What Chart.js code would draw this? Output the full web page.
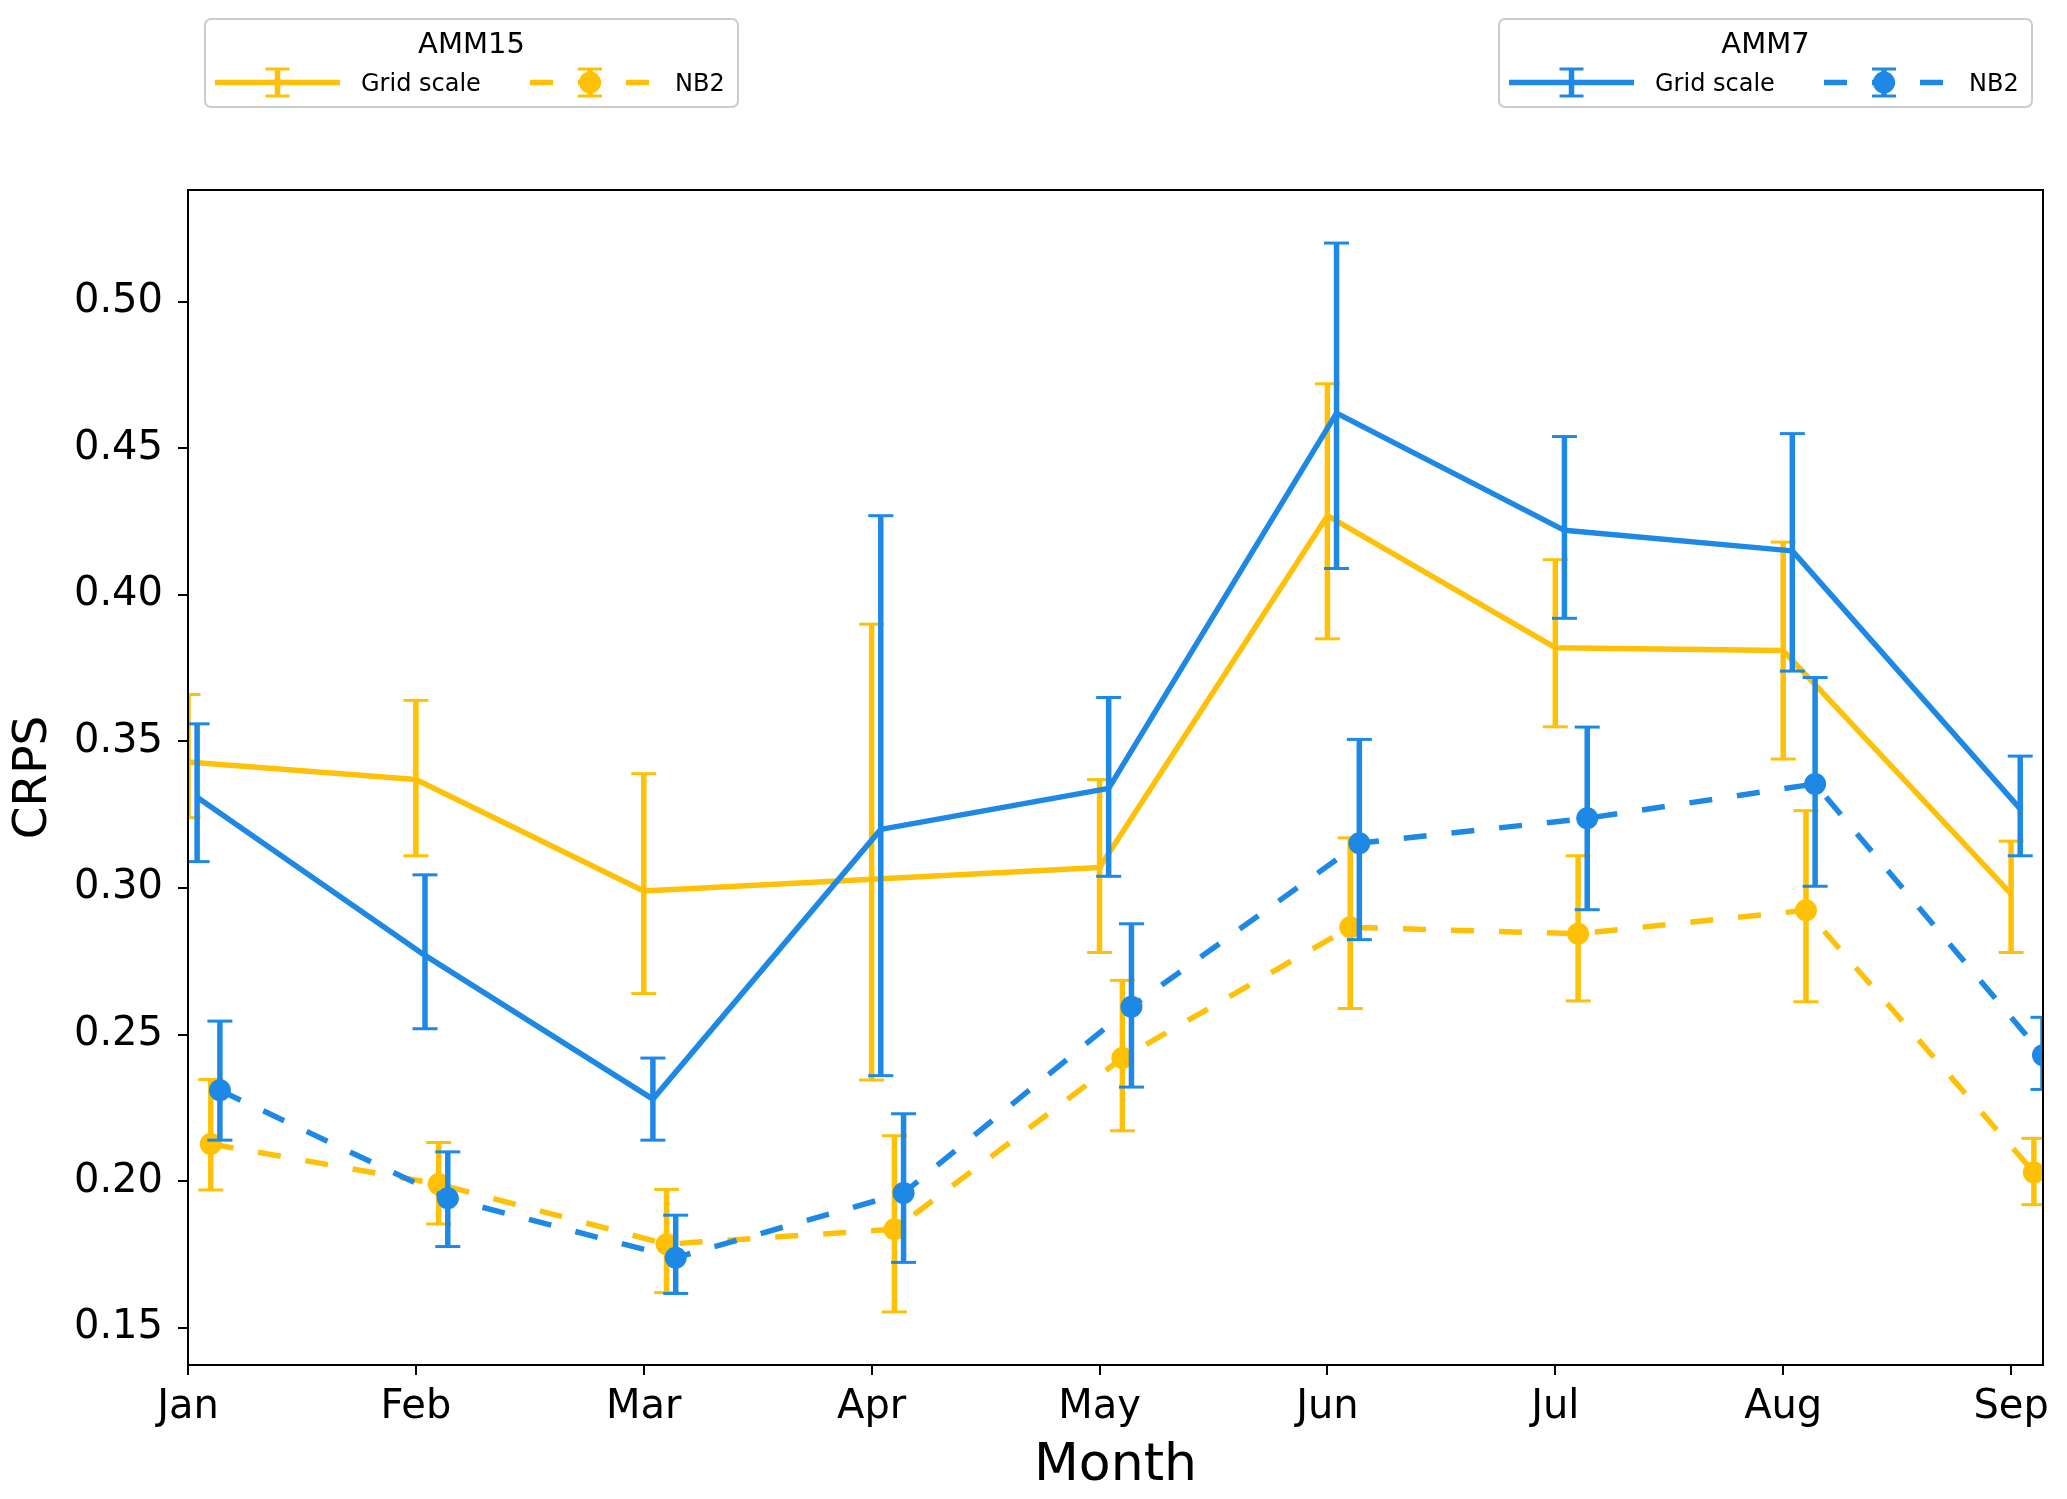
<!DOCTYPE html>
<html>
<head>
<meta charset="utf-8">
<script src="https://cdn.jsdelivr.net/npm/chart.js@4.4.1/dist/chart.umd.min.js"></script>
<style>
  html, body { margin: 0; padding: 0; background: #ffffff; }
  #c { display: block; }
</style>
</head>
<body>
<canvas id="c" width="2067" height="1499" style="width:2067px;height:1499px"></canvas>
<script>
// ---------- data ----------
const months = ['Jan', 'Feb', 'Mar', 'Apr', 'May', 'Jun', 'Jul', 'Aug', 'Sep'];
const yTicks = [0.15, 0.20, 0.25, 0.30, 0.35, 0.40, 0.45, 0.50];

const amm15GridMean = [0.343, 0.337, 0.299, 0.303, 0.307, 0.427, 0.382, 0.381, 0.298];
const amm15GridLow  = [0.324, 0.311, 0.264, 0.2345, 0.278, 0.385, 0.355, 0.344, 0.278];
const amm15GridHigh = [0.366, 0.364, 0.339, 0.390, 0.337, 0.472, 0.412, 0.418, 0.316];

const amm7GridMean = [0.331, 0.277, 0.228, 0.320, 0.334, 0.462, 0.422, 0.415, 0.327];
const amm7GridLow  = [0.309, 0.252, 0.214, 0.236, 0.304, 0.409, 0.392, 0.374, 0.311];
const amm7GridHigh = [0.356, 0.3045, 0.242, 0.427, 0.365, 0.520, 0.454, 0.455, 0.345];

const amm15NB2Mean = [0.2127, 0.199, 0.1785, 0.1836, 0.242, 0.2866, 0.2844, 0.2924, 0.203];
const amm15NB2Low  = [0.197, 0.1854, 0.162, 0.1554, 0.2172, 0.2589, 0.2615, 0.2612, 0.192];
const amm15NB2High = [0.2347, 0.2132, 0.1972, 0.2155, 0.2685, 0.3171, 0.311, 0.3264, 0.2146];

const amm7NB2Mean = [0.231, 0.1942, 0.1739, 0.196, 0.2595, 0.3153, 0.3238, 0.3355, 0.243];
const amm7NB2Low  = [0.214, 0.1777, 0.1617, 0.1723, 0.2321, 0.2824, 0.2926, 0.3006, 0.2313];
const amm7NB2High = [0.2546, 0.21, 0.1884, 0.223, 0.2878, 0.3507, 0.3549, 0.3718, 0.2559];

// ---------- style ----------
const FONT = "'DejaVu Sans', 'Liberation Sans', sans-serif";
const YELLOW = '#FFC107';
const BLUE = '#1E88E5';
const DASH = [23, 25];
const LW = 5.5;
const MR = 11;

function pts(mean, low, high, shift) {
  return mean.map((v, i) => ({ x: i + shift, y: v, lo: low[i], hi: high[i] }));
}

function ds(label, color, data, dashed, order) {
  return {
    label, data, order,
    borderColor: color,
    backgroundColor: color,
    borderWidth: LW,
    borderDash: dashed ? DASH : [],
    borderJoinStyle: 'round',
    borderCapStyle: 'butt',
    pointRadius: dashed ? MR : 0,
    pointHoverRadius: dashed ? MR : 0,
    pointBorderWidth: 0,
    pointBackgroundColor: color,
    tension: 0,
    fill: false,
    clip: 0
  };
}

const datasets = [
  ds('AMM15 Grid scale', YELLOW, pts(amm15GridMean, amm15GridLow, amm15GridHigh, 0), false, 4),
  ds('AMM15 NB2', YELLOW, pts(amm15NB2Mean, amm15NB2Low, amm15NB2High, 0.10), true, 3),
  ds('AMM7 Grid scale', BLUE, pts(amm7GridMean, amm7GridLow, amm7GridHigh, 0.04), false, 2),
  ds('AMM7 NB2', BLUE, pts(amm7NB2Mean, amm7NB2Low, amm7NB2High, 0.14), true, 1)
];

function seg(ctx, x1, y1, x2, y2) {
  ctx.beginPath(); ctx.moveTo(x1, y1); ctx.lineTo(x2, y2); ctx.stroke();
}

const errorBars = {
  id: 'errorBars',
  afterDatasetDraw(chart, args) {
    const d = chart.data.datasets[args.index];
    const { ctx, chartArea: a, scales: { x, y } } = chart;
    ctx.save();
    ctx.beginPath();
    ctx.rect(a.left, a.top, a.right - a.left, a.bottom - a.top);
    ctx.clip();
    ctx.strokeStyle = d.borderColor;
    ctx.setLineDash([]);
    ctx.lineCap = 'butt';
    d.data.forEach(p => {
      const px = x.getPixelForValue(p.x);
      const y1 = y.getPixelForValue(p.lo);
      const y2 = y.getPixelForValue(p.hi);
      ctx.lineWidth = LW;
      seg(ctx, px, y1, px, y2);
      ctx.lineWidth = 3;
      seg(ctx, px - 12.5, y1, px + 12.5, y1);
      seg(ctx, px - 12.5, y2, px + 12.5, y2);
    });
    ctx.restore();
  }
};

const frame = {
  id: 'frame',
  afterDatasetsDraw(chart) {
    const { ctx, chartArea: a } = chart;
    ctx.save();
    ctx.strokeStyle = '#000';
    ctx.lineWidth = 2;
    ctx.setLineDash([]);
    ctx.strokeRect(a.left, a.top, a.right - a.left, a.bottom - a.top);
    ctx.restore();
  }
};

function roundRect(ctx, x0, y0, x1, y1, r) {
  ctx.beginPath();
  ctx.moveTo(x0 + r, y0);
  ctx.lineTo(x1 - r, y0); ctx.arcTo(x1, y0, x1, y0 + r, r);
  ctx.lineTo(x1, y1 - r); ctx.arcTo(x1, y1, x1 - r, y1, r);
  ctx.lineTo(x0 + r, y1); ctx.arcTo(x0, y1, x0, y1 - r, r);
  ctx.lineTo(x0, y0 + r); ctx.arcTo(x0, y0, x0 + r, y0, r);
  ctx.closePath();
}

const legendBoxes = [
  { title: 'AMM15', color: YELLOW, x0: 205 },
  { title: 'AMM7', color: BLUE, x0: 1499 }
];
const legendEntries = ['Grid scale', 'NB2'];

const legends = {
  id: 'twoLegends',
  afterDraw(chart) {
    const ctx = chart.ctx;
    legendBoxes.forEach(L => {
      const x0 = L.x0, x1 = L.x0 + 533, y0 = 19, y1 = 107;
      ctx.save();
      roundRect(ctx, x0, y0, x1, y1, 6);
      ctx.fillStyle = 'rgba(255,255,255,0.8)';
      ctx.fill();
      ctx.strokeStyle = '#cccccc';
      ctx.lineWidth = 2;
      ctx.stroke();

      ctx.fillStyle = '#000';
      ctx.textBaseline = 'middle';
      ctx.textAlign = 'center';
      ctx.font = '29px ' + FONT;
      ctx.fillText(L.title, (x0 + x1) / 2, 45);

      const yr = 82.5;
      ctx.strokeStyle = L.color;
      ctx.fillStyle = L.color;
      // solid handle
      const h1 = x0 + 10, h1e = h1 + 125, c1 = (h1 + h1e) / 2;
      ctx.lineWidth = LW; ctx.setLineDash([]);
      seg(ctx, h1, yr, h1e, yr);
      seg(ctx, c1, 69, c1, 96);
      ctx.lineWidth = 3;
      seg(ctx, c1 - 12, 69, c1 + 12, 69);
      seg(ctx, c1 - 12, 96, c1 + 12, 96);
      // dashed handle
      const h2 = x0 + 325, h2e = h2 + 120, c2 = (h2 + h2e) / 2;
      ctx.lineWidth = LW; ctx.setLineDash(DASH);
      seg(ctx, h2, yr, h2e, yr);
      ctx.setLineDash([]);
      seg(ctx, c2, 69, c2, 96);
      ctx.lineWidth = 3;
      seg(ctx, c2 - 12, 69, c2 + 12, 69);
      seg(ctx, c2 - 12, 96, c2 + 12, 96);
      ctx.beginPath(); ctx.arc(c2, yr, MR, 0, Math.PI * 2); ctx.fill();

      ctx.fillStyle = '#000';
      ctx.textAlign = 'left';
      ctx.font = '24px ' + FONT;
      ctx.fillText(legendEntries[0], x0 + 156, yr + 2);
      ctx.fillText(legendEntries[1], x0 + 470, yr + 2);
      ctx.restore();
    });
  }
};

new Chart(document.getElementById('c'), {
  type: 'line',
  data: { datasets },
  options: {
    responsive: false,
    animation: false,
    devicePixelRatio: 1,
    events: [],
    layout: { padding: { top: 190, right: 24, left: 0, bottom: 0 } },
    plugins: { legend: { display: false }, tooltip: { enabled: false } },
    scales: {
      x: {
        type: 'linear',
        min: 0,
        max: 8.14,
        afterFit: s => { s.height = 134; },
        afterBuildTicks: s => { s.ticks = months.map((m, i) => ({ value: i })); },
        ticks: {
          callback: v => months[v],
          font: { family: FONT, size: 40 },
          color: '#000',
          padding: 8.5,
          maxRotation: 0,
          autoSkip: false
        },
        grid: { drawOnChartArea: false, drawTicks: true, tickLength: 10, color: '#000', lineWidth: 2 },
        border: { display: true, color: '#000', width: 2 },
        title: { display: true, text: 'Month', color: '#000', font: { family: FONT, size: 52 }, padding: { top: 0, bottom: 1 } }
      },
      y: {
        type: 'linear',
        min: 0.1373,
        max: 0.5381,
        afterFit: s => { s.width = 188; },
        afterBuildTicks: s => { s.ticks = yTicks.map(v => ({ value: v })); },
        ticks: {
          callback: v => Number(v).toFixed(2),
          font: { family: FONT, size: 40 },
          color: '#000',
          padding: 15
        },
        grid: { drawOnChartArea: false, drawTicks: true, tickLength: 10, color: '#000', lineWidth: 2 },
        border: { display: true, color: '#000', width: 2 },
        title: { display: true, text: 'CRPS', color: '#000', font: { family: FONT, size: 47 }, padding: { top: 6, bottom: 0 } }
      }
    }
  },
  plugins: [errorBars, frame, legends]
});
</script>
</body>
</html>
